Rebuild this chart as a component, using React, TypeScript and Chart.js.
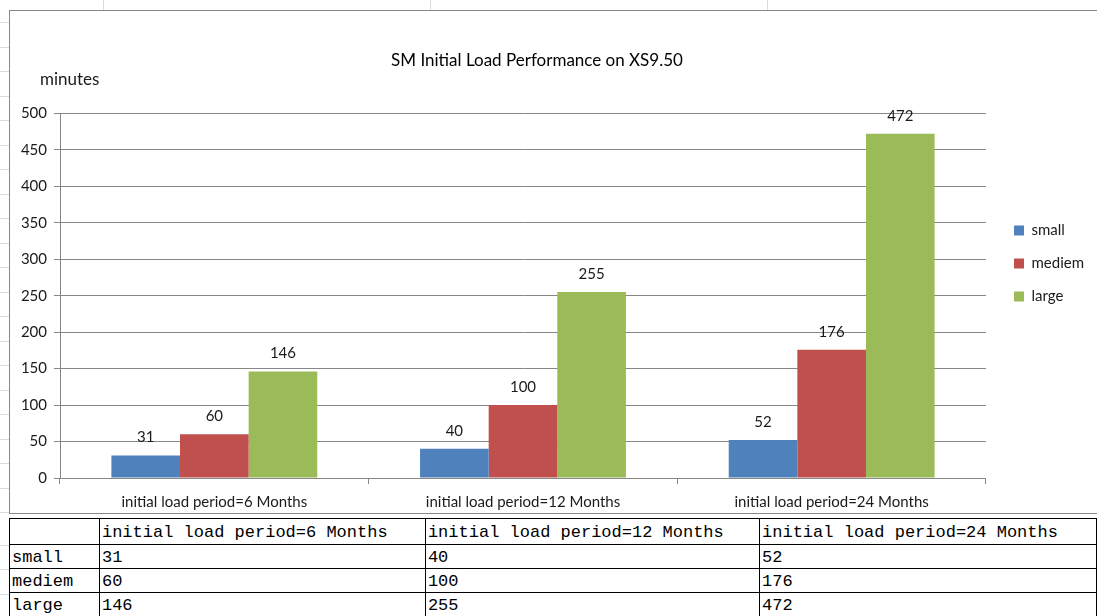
import React, { useEffect, useRef } from "react";
import { Chart, registerables } from "chart.js";

Chart.register(...registerables);

const categories = [
  "initial load period=6 Months",
  "initial load period=12 Months",
  "initial load period=24 Months",
];
const seriesNames = ["small", "mediem", "large"];
const smallValues = [31, 40, 52];
const mediemValues = [60, 100, 176];
const largeValues = [146, 255, 472];
const seriesColors = ["#4F81BD", "#C0504D", "#9BBB59"];
const chartTitle = "SM Initial Load Performance on XS9.50";
const yAxisTitle = "minutes";

const FONT = "Lato, 'Liberation Sans', Arial, sans-serif";

const valueLabelPlugin = {
  id: "valueLabels",
  afterDatasetsDraw(chart: any) {
    const ctx = chart.ctx;
    ctx.save();
    ctx.font = `15px ${FONT}`;
    ctx.fillStyle = "#1a1a1a";
    ctx.textAlign = "center";
    ctx.textBaseline = "middle";
    chart.data.datasets.forEach((ds: any, i: number) => {
      const meta = chart.getDatasetMeta(i);
      meta.data.forEach((bar: any, j: number) => {
        ctx.fillText(String(ds.data[j]), bar.x, bar.y - 18);
      });
    });
    ctx.restore();
  },
};

const axisTitlePlugin = {
  id: "axisTitleTopLeft",
  afterDraw(chart: any) {
    const ctx = chart.ctx;
    ctx.save();
    ctx.font = `17px ${FONT}`;
    ctx.fillStyle = "#1a1a1a";
    ctx.textAlign = "left";
    ctx.textBaseline = "middle";
    ctx.fillText(yAxisTitle, 30, 69);
    ctx.restore();
  },
};

// nudge the legend and title to where the original places them
const boxShiftPlugin = {
  id: "boxShift",
  afterLayout(chart: any) {
    const lg = chart.legend;
    if (lg) {
      lg.left += 10;
      lg.right += 10;
      lg.top += 2;
      lg.bottom += 2;
      if (lg.legendHitBoxes) lg.legendHitBoxes.forEach((b: any) => { b.left += 10; b.top += 2; });
    }
    const tb = chart.titleBlock;
    if (tb) {
      tb.left -= 10;
      tb.right -= 10;
    }
  },
};

function BarChart() {
  const ref = useRef<HTMLCanvasElement | null>(null);
  useEffect(() => {
    if (!ref.current) return;
    const chart = new Chart(ref.current, {
      type: "bar",
      data: {
        labels: categories,
        datasets: [smallValues, mediemValues, largeValues].map((d, i) => ({
          label: seriesNames[i],
          data: d,
          backgroundColor: seriesColors[i],
          borderWidth: 0,
          categoryPercentage: 0.667,
          barPercentage: 1,
        })),
      },
      options: {
        animation: false,
        responsive: false,
        maintainAspectRatio: false,
        layout: { padding: { left: 0, right: 13, top: 0, bottom: 1 } },
        plugins: {
          title: {
            display: true,
            text: chartTitle,
            color: "#000",
            font: { family: FONT, size: 17, weight: "normal" },
            padding: { top: 39, bottom: 43 },
          },
          legend: {
            display: true,
            position: "right",
            align: "center",
            labels: {
              boxWidth: 10,
              boxHeight: 10,
              padding: 18,
              color: "#1a1a1a",
              font: { family: FONT, size: 15 },
            },
          },
          tooltip: { enabled: false },
        },
        scales: {
          x: {
            afterFit: (scale: any) => {
              scale.height = 34;
            },
            grid: {
              display: true,
              drawOnChartArea: false,
              drawTicks: true,
              tickLength: 6,
              color: "#878787",
              offset: true,
            },
            border: { display: true, color: "#878787", width: 1 },
            ticks: {
              color: "#1a1a1a",
              font: { family: FONT, size: 15 },
              padding: 9,
              maxRotation: 0,
            },
          },
          y: {
            min: 0,
            max: 500,
            afterFit: (scale: any) => {
              scale.width = 50;
            },
            grid: {
              color: "#878787",
              tickLength: 6,
              drawTicks: true,
            },
            border: { display: true, color: "#878787", width: 1 },
            ticks: {
              stepSize: 50,
              color: "#1a1a1a",
              font: { family: FONT, size: 15 },
              padding: 7,
            },
          },
        },
      },
      plugins: [valueLabelPlugin, axisTitlePlugin, boxShiftPlugin],
    });
    return () => chart.destroy();
  }, []);
  return <canvas ref={ref} width={1087} height={502} style={{ display: "block", width: 1087, height: 502 }} />;
}

const tableRows = [
  { name: "small", values: smallValues },
  { name: "mediem", values: mediemValues },
  { name: "large", values: largeValues },
];
const colWidths = [92, 329, 337, 340];

export default function App() {
  const sheetLinesY = [22, 47, 71, 96, 120, 145, 169, 194, 218, 243, 267, 292, 316, 341, 365, 390, 414, 439, 463, 488, 512, 545, 569, 594];
  const cellFont = "'Liberation Mono', 'Courier New', monospace";
  const cell = { border: "1px solid #000", padding: "2px 2px 0 2px", whiteSpace: "nowrap" as const };
  return (
    <div style={{ position: "fixed", left: 0, top: 0, width: 1097, height: 616, overflow: "hidden", background: "#fff" }}>
      {sheetLinesY.map((y) => (
        <div key={y} style={{ position: "absolute", left: 0, top: y, width: 9, height: 1, background: "#d8dde4" }} />
      ))}
      {[103, 430, 767].map((x) => (
        <div key={x} style={{ position: "absolute", left: x, top: 0, width: 1, height: 10, background: "#d8dde4" }} />
      ))}
      <div
        style={{
          position: "absolute",
          left: 9,
          top: 10,
          width: 1100,
          height: 502,
          overflow: "hidden",
          borderTop: "1px solid #878787",
          borderLeft: "1px solid #878787",
          borderBottom: "1px solid #878787",
          background: "#fff",
        }}
      >
        <BarChart />
      </div>
      <table
        style={{
          position: "absolute",
          left: 9,
          top: 518,
          borderCollapse: "collapse",
          tableLayout: "fixed",
          fontFamily: cellFont,
          fontSize: 17,
          color: "#000",
        }}
      >
        <colgroup>
          {colWidths.map((w, i) => (
            <col key={i} style={{ width: w }} />
          ))}
        </colgroup>
        <tbody>
          <tr style={{ height: 26 }}>
            <td style={cell}></td>
            {categories.map((c) => (
              <td key={c} style={cell}>{c}</td>
            ))}
          </tr>
          {tableRows.map((r) => (
            <tr key={r.name} style={{ height: 24 }}>
              <td style={cell}>{r.name}</td>
              {r.values.map((v, i) => (
                <td key={i} style={cell}>{v}</td>
              ))}
            </tr>
          ))}
        </tbody>
      </table>
    </div>
  );
}
